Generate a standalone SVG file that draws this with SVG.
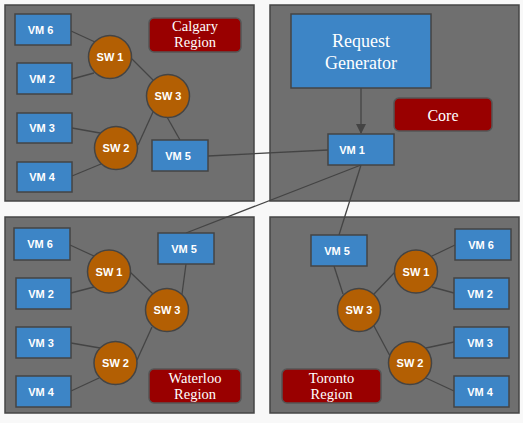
<svg xmlns="http://www.w3.org/2000/svg" width="523" height="423" viewBox="0 0 523 423">
<defs>
<style>
.region{fill:#6f6f6f;stroke:#454545;stroke-width:1.5}
.vm{fill:#3d85c6;stroke:#444;stroke-width:1.5}
.sw{fill:#b35f03;stroke:#444;stroke-width:1.5}
.label{fill:#990000;stroke:#555;stroke-width:1.5}
.t{font-family:"Liberation Sans",Arial,sans-serif;font-size:11px;font-weight:bold;fill:#fff;text-anchor:middle}
.s{font-family:"Liberation Serif","Times New Roman",serif;fill:#fff;text-anchor:middle}
.e{stroke:#444;stroke-width:1.3;fill:none}
</style>
<marker id="arr" markerWidth="10" markerHeight="10" refX="9" refY="5" orient="auto" markerUnits="userSpaceOnUse">
<path d="M0,0 L10,5 L0,10 z" fill="#444"/>
</marker>
</defs>
<rect width="523" height="423" fill="#f8f8f8"/>

<g id="regions">
<rect id="calgary-region" class="region" x="5" y="5" width="249" height="196"/>
<rect id="core-region" class="region" x="270" y="5" width="249" height="196"/>
<rect id="waterloo-region" class="region" x="5" y="217" width="249" height="196"/>
<rect id="toronto-region" class="region" x="270" y="217" width="249" height="196"/>
</g>

<g id="connectors">
<line class="e" x1="71" y1="31" x2="95" y2="42"/>
<line class="e" x1="72" y1="79" x2="94" y2="73"/>
<line class="e" x1="130" y1="57" x2="153" y2="80"/>
<line class="e" x1="72" y1="128" x2="100" y2="133"/>
<line class="e" x1="72" y1="176" x2="101" y2="164"/>
<line class="e" x1="138" y1="145" x2="153" y2="112"/>
<line class="e" x1="167" y1="117" x2="180" y2="140"/>
<line class="e" x1="70" y1="245" x2="94" y2="256"/>
<line class="e" x1="71" y1="293" x2="94" y2="287"/>
<line class="e" x1="130" y1="272" x2="153" y2="294"/>
<line class="e" x1="71" y1="343" x2="100" y2="348"/>
<line class="e" x1="71" y1="391" x2="99" y2="378"/>
<line class="e" x1="137" y1="360" x2="152" y2="327"/>
<line class="e" x1="182" y1="294" x2="186" y2="264"/>
<line class="e" x1="334" y1="266" x2="343" y2="294"/>
<line class="e" x1="374" y1="294" x2="395" y2="272"/>
<line class="e" x1="374" y1="326" x2="390" y2="356"/>
<line class="e" x1="432" y1="256" x2="455" y2="245"/>
<line class="e" x1="432" y1="287" x2="454" y2="293"/>
<line class="e" x1="426" y1="348" x2="454" y2="342"/>
<line class="e" x1="426" y1="378" x2="454" y2="391"/>
<line class="e" x1="208" y1="156" x2="328" y2="150"/>
<line class="e" x1="361" y1="165" x2="186" y2="233"/>
<line class="e" x1="361" y1="165" x2="339" y2="235"/>
<line class="e" x1="361" y1="88" x2="361" y2="133" marker-end="url(#arr)"/>
</g>

<g id="cal-vm6"><rect class="vm" x="15" y="14" width="56" height="31"/><text class="t" x="40.5" y="33.5">VM 6</text></g>
<g id="cal-vm2"><rect class="vm" x="17" y="63" width="55" height="31"/><text class="t" x="42" y="82.5">VM 2</text></g>
<g id="cal-vm3"><rect class="vm" x="17" y="113" width="55" height="30"/><text class="t" x="42" y="132">VM 3</text></g>
<g id="cal-vm4"><rect class="vm" x="17" y="162" width="55" height="30"/><text class="t" x="42" y="181">VM 4</text></g>
<g id="cal-vm5"><rect class="vm" x="152" y="140" width="56" height="31"/><text class="t" x="178" y="159.5">VM 5</text></g>
<g id="cal-sw1"><circle class="sw" cx="110" cy="57" r="21.5"/><text class="t" x="110" y="61">SW 1</text></g>
<g id="cal-sw2"><circle class="sw" cx="116" cy="148" r="21.5"/><text class="t" x="116" y="152">SW 2</text></g>
<g id="cal-sw3"><circle class="sw" cx="168" cy="96" r="21.5"/><text class="t" x="168" y="100">SW 3</text></g>
<g id="cal-label"><rect class="label" x="149" y="18" width="92" height="34" rx="5"/><text class="s" font-size="14.5" x="195" y="31">Calgary</text><text class="s" font-size="14.5" x="195" y="47">Region</text></g>

<g id="request-generator"><rect class="vm" x="291" y="14" width="140" height="74"/><text class="s" font-size="18" x="361" y="47">Request</text><text class="s" font-size="18" x="361" y="68.5">Generator</text></g>
<g id="core-label"><rect class="label" x="394" y="98" width="98" height="33" rx="5"/><text class="s" font-size="16" x="443" y="120.5">Core</text></g>
<g id="core-vm1"><rect class="vm" x="328" y="134" width="66" height="31"/><text class="t" x="352" y="153.5">VM 1</text></g>

<g id="wat-vm6"><rect class="vm" x="14" y="228" width="56" height="32"/><text class="t" x="40" y="248">VM 6</text></g>
<g id="wat-vm2"><rect class="vm" x="16" y="278" width="55" height="31"/><text class="t" x="41" y="297.5">VM 2</text></g>
<g id="wat-vm3"><rect class="vm" x="16" y="327" width="55" height="31"/><text class="t" x="41" y="346.5">VM 3</text></g>
<g id="wat-vm4"><rect class="vm" x="16" y="376" width="55" height="31"/><text class="t" x="41" y="395.5">VM 4</text></g>
<g id="wat-vm5"><rect class="vm" x="158" y="233" width="56" height="31"/><text class="t" x="184" y="252.5">VM 5</text></g>
<g id="wat-sw1"><circle class="sw" cx="109" cy="271.5" r="21.5"/><text class="t" x="109" y="275.5">SW 1</text></g>
<g id="wat-sw2"><circle class="sw" cx="115.5" cy="363" r="21.5"/><text class="t" x="115.5" y="367">SW 2</text></g>
<g id="wat-sw3"><circle class="sw" cx="167" cy="310" r="21.5"/><text class="t" x="167" y="314">SW 3</text></g>
<g id="wat-label"><rect class="label" x="149" y="369" width="92" height="34" rx="5"/><text class="s" font-size="14.5" x="195" y="383">Waterloo</text><text class="s" font-size="14.5" x="195" y="399">Region</text></g>

<g id="tor-vm5"><rect class="vm" x="311" y="235" width="56" height="31"/><text class="t" x="337" y="254.5">VM 5</text></g>
<g id="tor-vm6"><rect class="vm" x="455" y="229" width="56" height="31"/><text class="t" x="481" y="248.5">VM 6</text></g>
<g id="tor-vm2"><rect class="vm" x="454" y="278" width="55" height="31"/><text class="t" x="480" y="297.5">VM 2</text></g>
<g id="tor-vm3"><rect class="vm" x="454" y="327" width="55" height="31"/><text class="t" x="480" y="346.5">VM 3</text></g>
<g id="tor-vm4"><rect class="vm" x="454" y="376" width="55" height="31"/><text class="t" x="480" y="395.5">VM 4</text></g>
<g id="tor-sw1"><circle class="sw" cx="416" cy="271.5" r="21.5"/><text class="t" x="416" y="275.5">SW 1</text></g>
<g id="tor-sw2"><circle class="sw" cx="410" cy="363" r="21.5"/><text class="t" x="410" y="367">SW 2</text></g>
<g id="tor-sw3"><circle class="sw" cx="359" cy="310" r="21.5"/><text class="t" x="359" y="314">SW 3</text></g>
<g id="tor-label"><rect class="label" x="282" y="369" width="99" height="34" rx="5"/><text class="s" font-size="14.5" x="331.5" y="383">Toronto</text><text class="s" font-size="14.5" x="331.5" y="399">Region</text></g>
</svg>
